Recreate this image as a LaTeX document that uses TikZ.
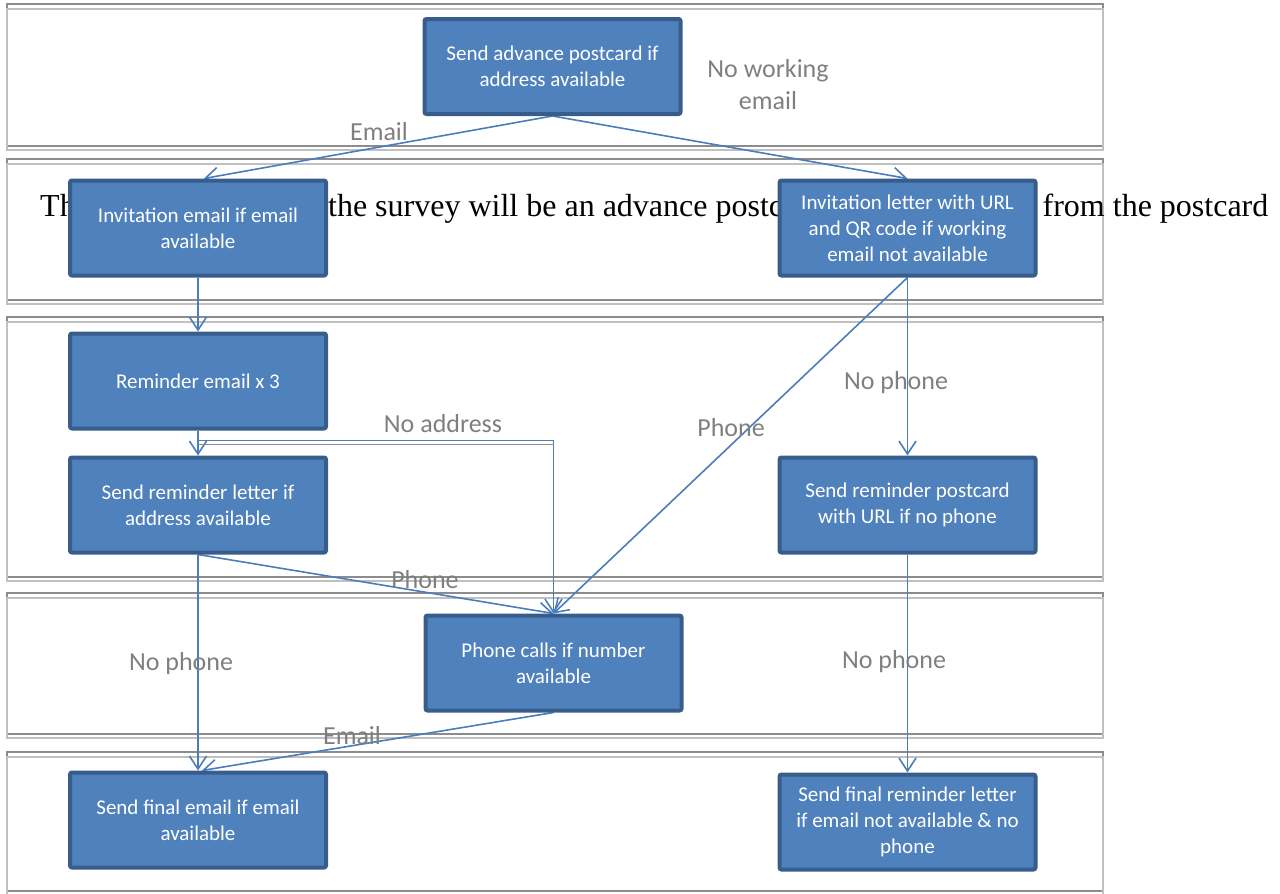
\documentclass[tikz,border=0pt]{standalone}
\usepackage{fontspec}
\setmainfont{Liberation Serif}
\newfontfamily\boxfont{Carlito}
\usetikzlibrary{arrows.meta,positioning}

\definecolor{boxblue}{HTML}{4F81BD}
\definecolor{boxedge}{HTML}{385D8A}
\definecolor{flowblue}{HTML}{4A7EBB}
\definecolor{lanegray}{HTML}{8C8C8C}
\definecolor{lanelight}{HTML}{C0C0C0}
\definecolor{labelgray}{HTML}{7F7F7F}

\pgfdeclarelayer{lanes}
\pgfdeclarelayer{flows}
\pgfsetlayers{lanes,flows,main}

\begin{document}
\begin{tikzpicture}[x=1pt,y=-1pt,
  stepbox/.style={rectangle, rounded corners=2pt, draw=boxedge, line width=4pt,
    fill=boxblue, text=white, minimum width=256pt, minimum height=95pt,
    align=center, font=\boxfont\fontsize{21}{26}\selectfont},
  lbl/.style={text=labelgray, align=center, font=\boxfont\fontsize{26}{32}\selectfont},
  flow/.style={draw=flowblue, line width=1.6pt, -{Straight Barb[length=13pt,width=17pt]}},
  lane/.style={draw=lanegray, line width=1.6pt},
  lanetwo/.style={draw=lanelight, line width=1.6pt}]
  \useasboundingbox (0,0) rectangle (1280,894);

  % lanes
  \begin{pgfonlayer}{lanes}
    \foreach \t/\b in {4/146, 159/300, 317/577, 593/734, 752/891} {
      \draw[lane] (7,\t) rectangle (1103,\b);
      \draw[lanetwo] (7,\t+5) rectangle (1103,\b+4);
    }
  \end{pgfonlayer}

  % note behind the boxes
  \node[anchor=base west, inner sep=0pt, font=\fontsize{32}{38}\selectfont] (note) at (40,216)
    {The first contact from the survey will be an advance postcard, and the URL is from the postcard};

  % steps
  \node[stepbox] (post) at (552.5,66.5) {Send advance postcard if\\address available};
  \node[stepbox] (invmail) at (198,228) {Invitation email if email\\available};
  \node[stepbox] (invletter) at (907.5,228) {Invitation letter with URL\\and QR code if working\\email not available};
  \node[stepbox] (remmail) at (198,381) {Reminder email x 3};
  \node[stepbox] (remletter) at (198,505) {Send reminder letter if\\address available};
  \node[stepbox] (rempost) at (907.5,505) {Send reminder postcard\\with URL if no phone};
  \node[stepbox] (phone) at (553.5,663) {Phone calls if number\\available};
  \node[stepbox] (finmail) at (198,820) {Send final email if email\\available};
  \node[stepbox] (finletter) at (907.5,822) {Send final reminder letter\\if email not available \& no\\phone};

  % labels
  \node[lbl] (lemail) at (379,132) {Email};
  \node[lbl] (lnowork) at (768,85) {No working\\email};
  \node[lbl] (lnophone) at (896,383) {No phone};
  \node[lbl] (lphone) at (731,428) {Phone};
  \node[lbl] (lnoaddr) at (443,424) {No address};
  \node[lbl] (lphonetwo) at (425,580) {Phone};
  \node[lbl] (lnophonetwo) at (181,664) {No phone};
  \node[lbl] (lnophonethree) at (894,662) {No phone};
  \node[lbl] (lemailtwo) at (352,736) {Email};

  % connectors
  \begin{pgfonlayer}{flows}
    \draw[flow] (post.south) -- ([xshift=6pt]invmail.north);
    \draw[flow] (post.south) -- (invletter.north);
    \draw[flow] (invmail.south) -- (remmail.north);
    \draw[flow] (remmail.south) -- (remletter.north);
    \draw[flow] (remmail.south) -- ++(0,10) -| (phone.north);
    \draw[lanegray, line width=1.4pt] ([yshift=-14pt]remmail.south) -- ([yshift=-14pt]remmail.south -| phone.north);
    \draw[flow] (invletter.south) -- (rempost.north);
    \draw[flow] (invletter.south) -- (phone.north);
    \draw[flow] (remletter.south) -- (phone.north);
    \draw[flow] (remletter.south) -- (finmail.north);
    \draw[flow] (phone.south) -- ([xshift=4pt]finmail.north);
    \draw[flow] (rempost.south) -- (finletter.north);
  \end{pgfonlayer}
\end{tikzpicture}
\end{document}
